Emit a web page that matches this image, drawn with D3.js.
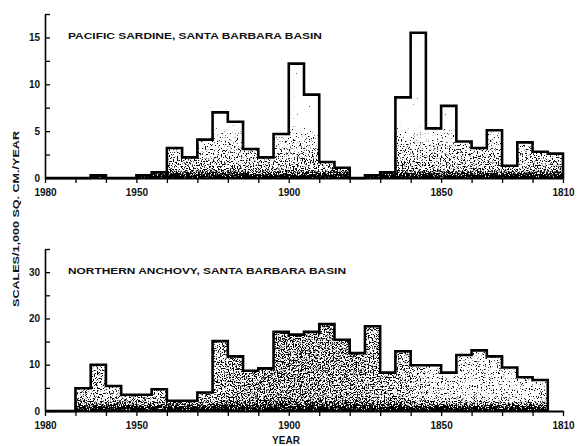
<!DOCTYPE html>
<html>
<head>
<meta charset="utf-8">
<script src="https://cdn.jsdelivr.net/npm/d3@7"></script>
<style>
  body { margin: 0; background: #fff; }
  svg text { font-family: "Liberation Sans", Arial, sans-serif; font-weight: bold; fill: #111; }
</style>
</head>
<body>
<svg id="chart" width="577" height="446"></svg>
<script>
// 5-year bins, given by the younger year of each bin (scale runs 1980 -> 1810)
const binYears = [1980, 1975, 1970, 1965, 1960, 1955, 1950, 1945, 1940, 1935, 1930, 1925,
  1920, 1915, 1910, 1905, 1900, 1895, 1890, 1885, 1880, 1875, 1870, 1865, 1860, 1855,
  1850, 1845, 1840, 1835, 1830, 1825, 1820, 1815];

const sardine = [0, 0, 0, 0.3, 0, 0, 0.3, 0.6, 3.2, 2.2, 4.1, 7.0,
  6.0, 3.1, 2.2, 4.7, 12.2, 8.9, 1.7, 1.1, 0, 0.3, 0.6, 8.6, 15.5, 5.3,
  7.7, 3.9, 3.2, 5.1, 1.3, 3.8, 2.8, 2.6];

const anchovy = [0, 0, 4.9, 10.0, 5.4, 3.5, 3.5, 4.7, 2.2, 2.2, 4.0, 15.1,
  11.8, 8.7, 9.2, 17.1, 16.5, 17.1, 18.8, 15.4, 12.5, 18.3, 8.3, 12.9, 9.9, 9.9,
  8.3, 12.1, 13.1, 11.8, 9.4, 7.3, 6.7];

const yearTicks = [1980, 1970, 1960, 1950, 1940, 1930, 1920, 1910, 1900, 1890, 1880, 1870, 1860, 1850, 1840, 1830, 1820, 1810];
const yearLabels = [1980, 1950, 1900, 1850, 1810];

const sardineTicks = [0, 2.5, 5, 7.5, 10, 12.5, 15, 17.5];
const sardineLabels = [0, 5, 10, 15];
const anchovyTicks = [0, 5, 10, 15, 20, 25, 30, 35];
const anchovyLabels = [0, 10, 20, 30];

const svg = d3.select("#chart");
const defs = svg.append("defs");

const x = d3.scaleLinear().domain([1980, 1810]).range([45, 563]);

// speckle filter: noise thresholded by the alpha of the shape it is applied to
const makeSpeckle = (id, seed) => {
  const f = defs.append("filter").attr("id", id)
      .attr("x", 0).attr("y", 0).attr("width", 1).attr("height", 1)
      .attr("color-interpolation-filters", "sRGB");
  f.append("feTurbulence").attr("type", "fractalNoise").attr("baseFrequency", 0.75)
      .attr("numOctaves", 2).attr("seed", seed).attr("result", "n");
  f.append("feColorMatrix").attr("in", "n").attr("type", "matrix")
      .attr("values", "0 0 0 0 0  0 0 0 0 0  0 0 0 0 0  1 0 0 0 0").attr("result", "na");
  f.append("feComposite").attr("in", "na").attr("in2", "SourceAlpha").attr("operator", "arithmetic")
      .attr("k1", 0).attr("k2", 1).attr("k3", 0.6).attr("k4", -0.3).attr("result", "sum");
  const ct = f.append("feComponentTransfer").attr("in", "sum");
  ct.append("feFuncA").attr("type", "linear").attr("slope", 10).attr("intercept", -5);
};
makeSpeckle("speckA", 3);
makeSpeckle("speckB", 11);

const gradient = (id, x1, y1, x2, y2, stops) => {
  const g = defs.append("linearGradient").attr("id", id)
      .attr("gradientUnits", "userSpaceOnUse")
      .attr("x1", x1).attr("y1", y1).attr("x2", x2).attr("y2", y2);
  g.selectAll("stop").data(stops).join("stop")
      .attr("offset", d => d[0]).attr("stop-color", "#000").attr("stop-opacity", d => d[1]);
};

const stepPoints = values => {
  const pts = [[binYears[0], 0]];
  values.forEach((v, i) => pts.push([binYears[i], v], [binYears[i] - 5, v]));
  pts.push([binYears[values.length - 1] - 5, 0]);
  return pts;
};

const plotPanel = ({ id, values, y, ticks, labels, title, titleLen, speckles }) => {
  const pts = stepPoints(values);
  const g = svg.append("g");

  const area = d3.area().x(d => x(d[0])).y0(y(0)).y1(d => y(d[1]));
  defs.append("clipPath").attr("id", "clip-" + id)
      .append("path").attr("d", area(pts));

  const fillG = g.append("g").attr("clip-path", `url(#clip-${id})`);
  speckles.forEach(s => {
    gradient(s.grad, ...s.coords, s.stops);
    fillG.append("rect")
        .attr("x", x(1980)).attr("y", y.range()[1])
        .attr("width", x(1810) - x(1980)).attr("height", y(0) - y.range()[1])
        .attr("fill", `url(#${s.grad})`)
        .attr("filter", `url(#${s.filter})`);
  });

  // x axis
  const xAxis = g.append("g")
      .attr("transform", `translate(0,${y(0)})`)
      .call(d3.axisBottom(x).tickValues(yearTicks)
        .tickFormat(d => yearLabels.includes(d) ? d : "")
        .tickSize(5).tickSizeOuter(0).tickPadding(5.5));
  xAxis.select(".domain").attr("stroke", "#000").attr("stroke-width", 2);
  xAxis.selectAll(".tick line").attr("stroke", "#000").attr("stroke-width", 1.3);
  xAxis.selectAll("text").attr("font-size", 10);

  // y axis, ticks pointing inward
  const yAxis = g.append("g")
      .attr("transform", `translate(${x(1980)},0)`)
      .call(d3.axisLeft(y).tickValues(ticks)
        .tickFormat(d => labels.includes(d) ? d : "")
        .tickSizeInner(-5).tickSizeOuter(0).tickPadding(5));
  yAxis.select(".domain").attr("stroke", "#000").attr("stroke-width", 1.6);
  yAxis.selectAll(".tick line").attr("stroke", "#000").attr("stroke-width", 1.3);
  yAxis.selectAll("text").attr("font-size", 10);

  // step outline
  g.append("path")
      .attr("d", d3.line().x(d => x(d[0])).y(d => y(d[1]))(pts))
      .attr("fill", "none")
      .attr("stroke", "#000")
      .attr("stroke-width", 2.6)
      .attr("stroke-linejoin", "miter");

  g.append("text")
      .attr("x", 68).attr("y", y.range()[1] + 25)
      .attr("font-size", 9.6)
      .attr("textLength", titleLen).attr("lengthAdjust", "spacingAndGlyphs")
      .text(title);
};

const ySardine = d3.scaleLinear().domain([0, 17.5]).range([178, 14]);
const yAnchovy = d3.scaleLinear().domain([0, 35]).range([411, 249]);

plotPanel({
  id: "sardine", values: sardine, y: ySardine,
  ticks: sardineTicks, labels: sardineLabels,
  title: "PACIFIC SARDINE, SANTA BARBARA BASIN", titleLen: 254,
  speckles: [{
    grad: "gSardine", filter: "speckA",
    coords: [0, ySardine(0), 0, ySardine(6)],
    stops: [[0, 1], [0.05, 0.8], [0.15, 0.48], [0.55, 0.36], [0.85, 0.2], [1, 0]]
  }]
});

plotPanel({
  id: "anchovy", values: anchovy, y: yAnchovy,
  ticks: anchovyTicks, labels: anchovyLabels,
  title: "NORTHERN ANCHOVY, SANTA BARBARA BASIN", titleLen: 278,
  speckles: [{
    grad: "gAnchovyH", filter: "speckB",
    coords: [x(1980), 0, x(1810), 0],
    stops: [[0, 0.42], [0.3, 0.42], [0.35, 0.5], [0.45, 0.55], [0.6, 0.53], [0.7, 0.45], [0.75, 0.33], [1, 0.3]]
  }, {
    grad: "gAnchovyV", filter: "speckA",
    coords: [0, yAnchovy(0), 0, yAnchovy(4)],
    stops: [[0, 1], [0.15, 0.75], [0.5, 0.45], [1, 0]]
  }]
});

// shared labels
svg.append("text")
    .attr("transform", "translate(19,219) rotate(-90)")
    .attr("text-anchor", "middle")
    .attr("font-size", 9.6)
    .attr("textLength", 176).attr("lengthAdjust", "spacingAndGlyphs")
    .text("SCALES/1,000 SQ. CM./YEAR");

svg.append("text")
    .attr("x", 286).attr("y", 444)
    .attr("text-anchor", "middle")
    .attr("font-size", 10)
    .text("YEAR");
</script>
</body>
</html>
